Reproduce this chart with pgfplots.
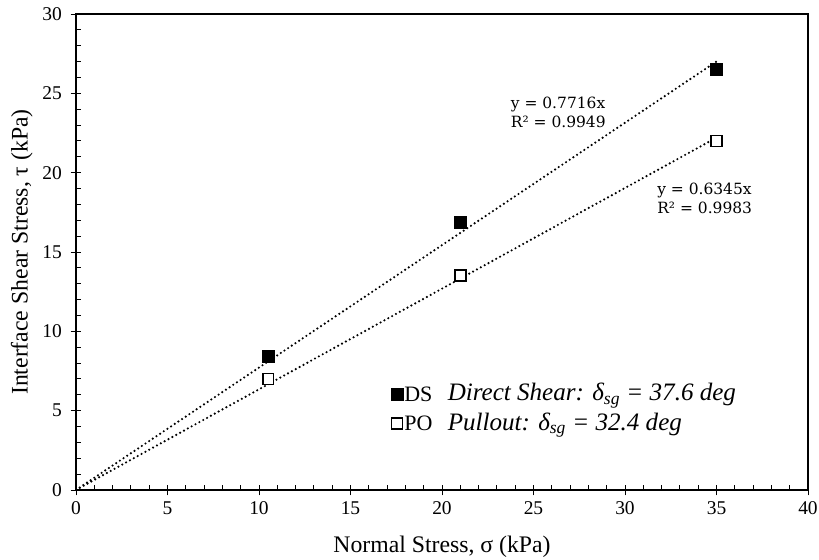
\documentclass[border=0pt]{standalone}
\usepackage{fontspec}
\setmainfont{Liberation Serif}
\newfontfamily\eqfont{DejaVu Serif}
\usepackage{pgfplots}
\pgfplotsset{compat=1.18}
\begin{document}
\begin{tikzpicture}
\useasboundingbox (-57pt,-52.5pt) rectangle (557.25pt,367.5pt);
\begin{axis}[
  at={(0,0)}, anchor=south west,
  scale only axis,
  width=549pt, height=357pt,
  xmin=0, xmax=40, ymin=0, ymax=30,
  xtick={0,5,...,40}, ytick={0,5,...,30},
  minor x tick num=4, minor y tick num=4,
  xtick pos=bottom, ytick pos=left,
  tick align=inside,
  major tick length=4pt, minor tick length=3.5pt,
  extra x ticks={0,5,...,40}, extra x tick labels={},
  extra y ticks={0,5,...,30}, extra y tick labels={},
  extra tick style={tick align=outside, major tick length=4pt},
  tick style={black, line width=0.7pt},
  axis line style={black, line width=0.9pt},
  /pgf/number format/assume math mode=true,
  ticklabel style={font=\fontsize{14.6pt}{16pt}\selectfont},
  xticklabel style={yshift=-5pt},
  yticklabel style={xshift=-7pt},
  xlabel={Normal Stress, σ (kPa)},
  ylabel={Interface Shear Stress, τ (kPa)},
  label style={font=\fontsize{17.8pt}{20pt}\selectfont},
  xlabel style={at={(axis description cs:0.5,0)}, anchor=base, yshift=-47pt},
  ylabel style={at={(axis description cs:-0.074,0.5)}, anchor=center},
  legend style={draw=none, fill=none, at={(axis cs:17.2,6.6)}, anchor=north west,
    font=\fontsize{16.5pt}{18pt}\selectfont, row sep=9pt, inner sep=0pt,
    nodes={inner sep=1pt, text height=11pt, text depth=0pt},
    /tikz/every even column/.append style={column sep=1pt}},
  legend cell align=left,
]
% trendlines
\addplot[forget plot, black, line width=1.8pt, line cap=round, dash pattern=on 0pt off 3.3pt] coordinates {(0,0) (35,27.006)};
\addplot[forget plot, black, line width=1.8pt, line cap=round, dash pattern=on 0pt off 3.3pt] coordinates {(0,0) (35,22.2075)};
% data
\addplot[only marks, mark=square*, mark size=4.5pt, mark options={fill=black, draw=black, line width=0.4pt}] coordinates {(10.5,8.4) (21,16.9) (35,26.5)};
\addlegendentry{DS}
\addplot[only marks, mark=square*, mark size=4.1pt, mark options={fill=white, draw=black, line width=1.3pt}] coordinates {(10.5,7.0) (21,13.5) (35,22.0)};
\addlegendentry{PO}
\node[anchor=west, font=\eqfont\fontsize{11.6pt}{14.5pt}\selectfont, align=left, inner sep=0pt] at (axis cs:23.75,23.8) {y = 0.7716x\\R² = 0.9949};
\node[anchor=west, font=\eqfont\fontsize{11.6pt}{14.5pt}\selectfont, align=left, inner sep=0pt] at (axis cs:31.75,18.4) {y = 0.6345x\\R² = 0.9983};
\node[anchor=west, inner sep=0pt, font=\fontsize{18.8pt}{20pt}\selectfont\itshape] at (axis cs:20.3,5.95) {Direct Shear: δ\textsubscript{sg} = 37.6 deg};
\node[anchor=west, inner sep=0pt, font=\fontsize{18.8pt}{20pt}\selectfont\itshape] at (axis cs:20.3,4.1) {Pullout: δ\textsubscript{sg} = 32.4 deg};
\end{axis}
\end{tikzpicture}
\end{document}
